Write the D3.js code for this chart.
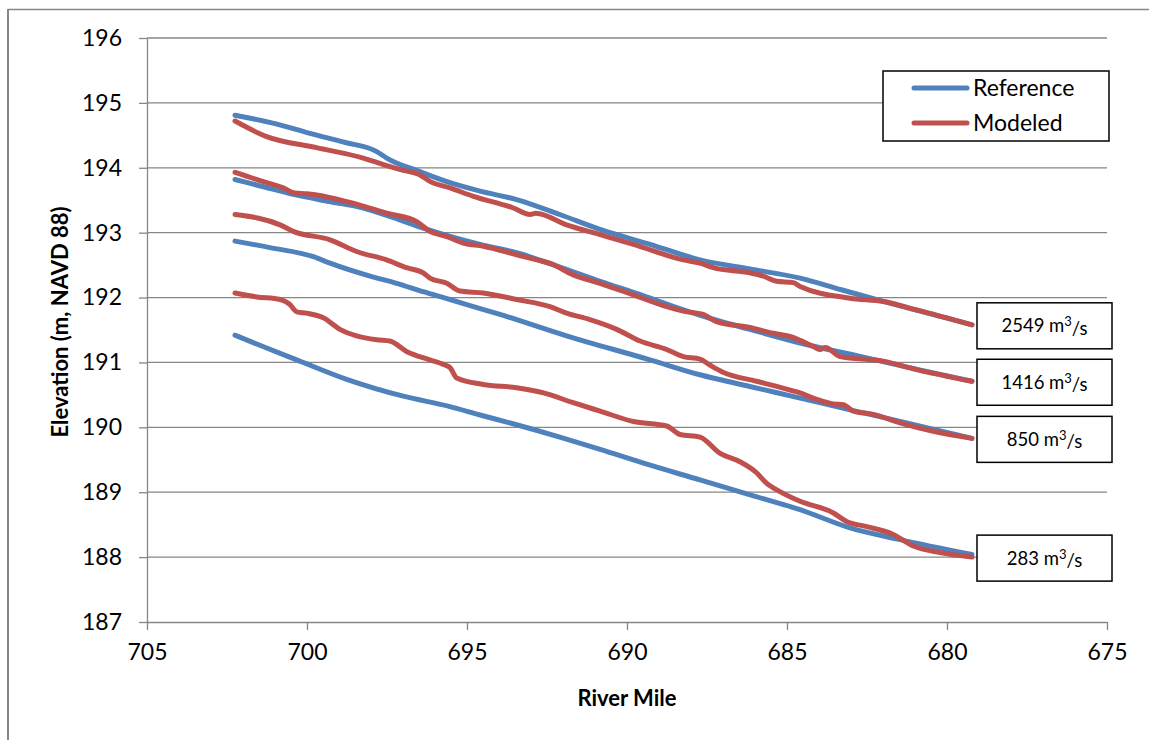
<!DOCTYPE html>
<html>
<head>
  <title>River Mile Elevation Profiles</title>
  <script src="https://d3js.org/d3.v7.min.js"></script>
  <style>
    body { margin: 0; background: #fff; font-family: Lato, "Open Sans", sans-serif; }
    .axis path, .axis line { fill: none; stroke: #868686; stroke-width: 1.3px; }
    .axis text { font-size: 23px; fill: #000; font-family: Lato, sans-serif; }
    .grid line { stroke: #868686; stroke-width: 1.3px; }
    .axis-title { font-size: 22px; font-weight: bold; text-anchor: middle; }
    .series { fill: none; stroke-width: 5px; stroke-linejoin: round; stroke-linecap: round; }
  </style>
</head>
<body>
  <div id="chart"></div>
  <script>
    // River mile / elevation pairs
    const ref2549 = [[702.25,194.81],[701.0,194.68],[699.91,194.53],[698.8,194.39],[697.82,194.25],[697.51,194.15],[696.47,193.94],[695.53,193.77],[694.59,193.64],[693.45,193.51],[692.1,193.28],[690.84,193.05],[689.28,192.82],[687.72,192.58],[686.16,192.44],[684.59,192.30],[683.3,192.12],[681.99,191.94],[680.6,191.76],[679.22,191.58]];
    const mod2549 = [[702.25,194.72],[701.26,194.48],[699.70,194.31],[698.24,194.15],[697.61,194.05],[696.99,193.96],[696.47,193.89],[696.16,193.79],[695.53,193.69],[694.80,193.56],[693.55,193.38],[693.03,193.28],[692.85,193.30],[691.89,193.12],[690.84,192.97],[689.80,192.82],[688.24,192.58],[687.72,192.53],[687.31,192.46],[686.16,192.38],[685.74,192.33],[685.32,192.25],[684.80,192.23],[684.59,192.17],[683.03,191.99],[681.99,191.94],[680.95,191.81],[679.22,191.58]];
    const ref1416 = [[702.25,193.82],[701.3,193.70],[700.43,193.59],[699.3,193.48],[698.24,193.38],[697.3,193.23],[696.37,193.07],[695.5,192.94],[694.59,192.82],[693.45,192.69],[692.1,192.47],[690.84,192.25],[689.5,192.03],[688.24,191.81],[687.2,191.65],[686.16,191.51],[684.59,191.30],[682.51,191.07],[680.9,190.89],[679.22,190.71]];
    const mod1416 = [[702.25,193.93],[701.26,193.77],[700.74,193.69],[700.38,193.61],[700.01,193.60],[698.24,193.41],[697.51,193.30],[696.57,193.17],[696.16,193.02],[695.63,192.94],[695.12,192.84],[694.49,192.79],[693.45,192.66],[692.82,192.58],[692.41,192.53],[691.68,192.35],[690.84,192.22],[689.80,192.04],[688.76,191.86],[688.24,191.79],[687.62,191.74],[687.20,191.63],[686.16,191.54],[685.43,191.45],[684.91,191.40],[684.19,191.25],[683.97,191.20],[683.80,191.23],[683.34,191.09],[681.99,191.02],[680.95,190.89],[679.22,190.71]];
    const ref850 = [[702.25,192.87],[701.16,192.77],[699.80,192.63],[699.28,192.53],[698.03,192.33],[697.20,192.22],[696.37,192.09],[695.53,191.97],[694.59,191.83],[693.97,191.74],[691.89,191.41],[689.28,191.04],[687.72,190.81],[686.16,190.63],[684.59,190.45],[683.03,190.27],[681.1,190.05],[679.22,189.83]];
    const mod850 = [[702.25,193.28],[700.84,193.12],[700.43,193.02],[699.28,192.89],[698.45,192.71],[697.51,192.58],[696.89,192.46],[696.37,192.38],[696.16,192.30],[695.63,192.22],[695.22,192.10],[694.49,192.07],[693.45,191.97],[692.41,191.86],[691.89,191.76],[691.16,191.66],[690.32,191.51],[689.59,191.33],[688.76,191.20],[688.24,191.09],[687.72,191.05],[687.41,190.96],[687.0,190.85],[685.95,190.71],[685.32,190.63],[684.59,190.53],[684.07,190.43],[683.55,190.36],[683.24,190.35],[682.93,190.25],[682.30,190.20],[681.47,190.07],[680.43,189.94],[679.22,189.83]];
    const ref283 = [[702.25,191.42],[701.3,191.23],[700.32,191.04],[698.76,190.74],[696.99,190.48],[695.53,190.32],[694.59,190.19],[693.45,190.04],[692.1,189.85],[690.84,189.66],[689.3,189.42],[687.72,189.19],[686.1,188.95],[684.59,188.73],[683.03,188.45],[681.47,188.27],[679.22,188.04]];
    const mod283 = [[702.25,192.07],[701.57,192.01],[700.84,191.97],[700.55,191.90],[700.32,191.78],[700.01,191.76],[699.49,191.69],[698.97,191.51],[698.45,191.41],[697.82,191.35],[697.41,191.33],[696.89,191.17],[696.16,191.04],[695.74,190.97],[695.53,190.92],[695.32,190.76],[694.49,190.66],[693.45,190.61],[692.61,190.53],[691.68,190.38],[690.84,190.25],[689.80,190.09],[688.76,190.02],[688.34,189.89],[687.72,189.85],[687.09,189.60],[686.47,189.47],[685.95,189.30],[685.64,189.14],[685.22,189.01],[684.59,188.86],[683.55,188.68],[683.14,188.55],[682.51,188.47],[681.68,188.35],[681.05,188.17],[680.22,188.07],[679.22,188.00]];

    const flowLabels = ["2549", "1416", "850", "283"];
    const pairs = [[ref2549, mod2549], [ref1416, mod1416], [ref850, mod850], [ref283, mod283]];
    const legendNames = ["Reference", "Modeled"];
    const colors = ["#4F81BD", "#C0504D"];
    const xTicks = [705, 700, 695, 690, 685, 680, 675];
    const yTicks = [187, 188, 189, 190, 191, 192, 193, 194, 195, 196];

    const W = 1149, H = 740;
    const plot = {left: 147, right: 1107, top: 38, bottom: 622};

    const svg = d3.select("#chart").append("svg")
      .attr("width", W)
      .attr("height", H);

    // outer chart frame (only top and left edges show in the picture)
    svg.append("line").attr("x1", 8).attr("y1", 9.5).attr("x2", W).attr("y2", 9.5)
      .attr("stroke", "#868686").attr("stroke-width", 1.5);
    svg.append("line").attr("x1", 8).attr("y1", 9).attr("x2", 8).attr("y2", H)
      .attr("stroke", "#868686").attr("stroke-width", 2);

    const x = d3.scaleLinear().domain([705, 675]).range([plot.left, plot.right]);
    const y = d3.scaleLinear().domain([187, 196]).range([plot.bottom, plot.top]);

    // horizontal gridlines
    svg.append("g").attr("class", "grid")
      .selectAll("line")
      .data(yTicks.slice(1))
      .join("line")
        .attr("x1", plot.left).attr("x2", plot.right)
        .attr("y1", d => y(d)).attr("y2", d => y(d));

    svg.append("g")
      .attr("class", "axis")
      .attr("transform", `translate(0,${plot.bottom})`)
      .call(d3.axisBottom(x).tickValues(xTicks).tickSize(8).tickSizeOuter(0).tickPadding(14).tickFormat(d3.format("d")));

    svg.append("g")
      .attr("class", "axis")
      .attr("transform", `translate(${plot.left},0)`)
      .call(d3.axisLeft(y).tickValues(yTicks).tickSize(8).tickSizeOuter(0).tickPadding(17).tickFormat(d3.format("d")));

    svg.append("text")
      .attr("class", "axis-title")
      .attr("transform", `translate(60,${(plot.top + plot.bottom) / 2 - 8}) rotate(-90)`)
      .attr("dy", "0.35em")
      .text("Elevation (m, NAVD 88)");

    svg.append("text")
      .attr("class", "axis-title")
      .attr("x", (plot.left + plot.right) / 2)
      .attr("y", 698)
      .attr("dy", "0.35em")
      .text("River Mile");

    const line = d3.line().x(d => x(d[0])).y(d => y(d[1])).curve(d3.curveMonotoneX);

    pairs.forEach(p => {
      p.forEach((s, i) => {
        svg.append("path")
          .datum(s)
          .attr("class", "series")
          .attr("stroke", colors[i])
          .attr("d", line);
      });
    });

    // flow labels, boxed, next to the end of each profile
    const boxW = 135, boxH = 46, boxX = 977;
    pairs.forEach((p, i) => {
      const last = p[1][p[1].length - 1];
      const cy = y(last[1]) + 1;
      const g = svg.append("g");
      g.append("rect")
        .attr("x", boxX).attr("y", cy - boxH / 2)
        .attr("width", boxW).attr("height", boxH)
        .attr("fill", "#fff").attr("stroke", "#000").attr("stroke-width", 1.5);
      const t = g.append("text")
        .attr("x", boxX + boxW / 2).attr("y", cy)
        .attr("dy", "0.35em")
        .attr("text-anchor", "middle")
        .attr("font-size", "18.5px");
      t.append("tspan").text(flowLabels[i] + " m");
      t.append("tspan").attr("dy", "-0.45em").attr("font-size", "13px").text("3");
      t.append("tspan").attr("dy", "0.45em").text("/s");
    });

    // legend
    const lg = svg.append("g");
    lg.append("rect")
      .attr("x", 883).attr("y", 71).attr("width", 226).attr("height", 70)
      .attr("fill", "#fff").attr("stroke", "#000").attr("stroke-width", 1.5);
    legendNames.forEach((name, i) => {
      const ly = 88 + i * 35;
      lg.append("line")
        .attr("x1", 914).attr("x2", 967).attr("y1", ly).attr("y2", ly)
        .attr("stroke", colors[i]).attr("stroke-width", 5).attr("stroke-linecap", "round");
      lg.append("text")
        .attr("x", 973).attr("y", ly).attr("dy", "0.35em")
        .attr("font-size", "23px")
        .text(name);
    });
  </script>
</body>
</html>
